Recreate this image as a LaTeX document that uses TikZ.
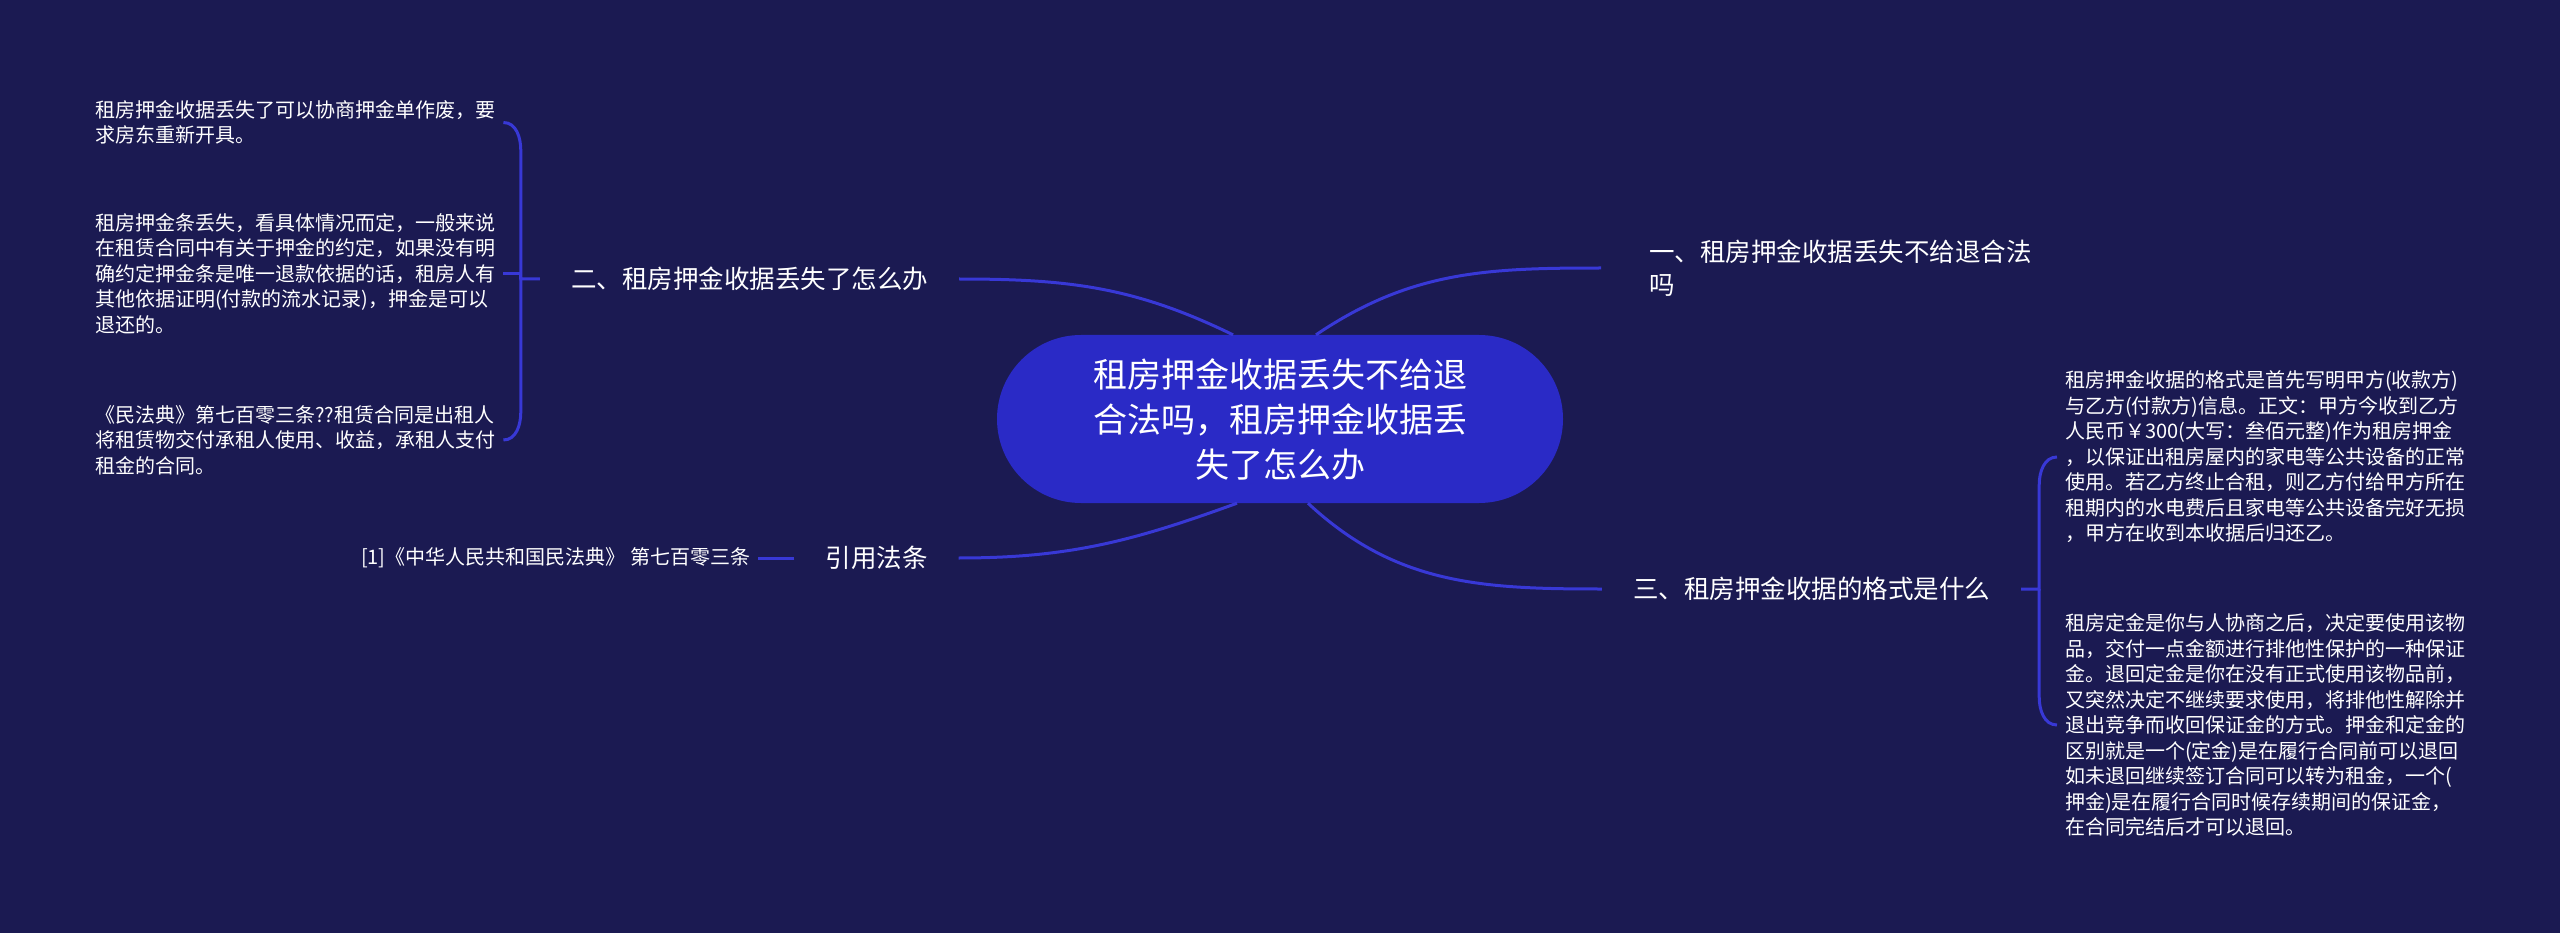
\documentclass[tikz,border=0pt]{standalone}
\usepackage{fontspec}
\newfontfamily\cjk{Noto Sans CJK SC}
\usetikzlibrary{positioning}
\definecolor{bgnavy}{HTML}{1B1A52}
\definecolor{ctrblue}{HTML}{2A2AC6}
\definecolor{linkblue}{HTML}{3838D6}

\begin{document}
\begin{tikzpicture}[x=1pt,y=1pt,
    link/.style={draw=linkblue,line width=3pt},
    ctrnode/.style={rectangle,rounded corners=84pt,fill=ctrblue,minimum width=566pt,
                    minimum height=168pt,align=center,text=white,
                    font=\cjk\fontsize{34}{45}\selectfont},
    branch/.style={text=white,inner xsep=31pt,inner ysep=4pt,align=left,
                   font=\cjk\fontsize{25.5}{33}\selectfont},
    leaf/.style={text=white,inner xsep=8pt,align=left,
                 font=\cjk\fontsize{20}{25.5}\selectfont}]

  \useasboundingbox (0,0) rectangle (2560,-933);
  \fill[bgnavy] (0,0) rectangle (2560,-933);

  \node[ctrnode] (ctr) at (1280,-419)
    {租房押金收据丢失不给退\\合法吗，租房押金收据丢\\失了怎么办};

  \node[branch,anchor=west,inner xsep=48pt] (b1) at (1601,-268)
    {一、租房押金收据丢失不给退合法\\吗};
  \node[branch] (b2) at (749.5,-279) {二、租房押金收据丢失了怎么办};
  \node[branch] (b3) at (1811.5,-589) {三、租房押金收据的格式是什么};
  \node[branch] (b4) at (876.5,-558) {引用法条};

  \node[leaf,anchor=west] (l1) at (87,-122.5)
    {租房押金收据丢失了可以协商押金单作废，要\\求房东重新开具。};
  \node[leaf,anchor=west] (l2) at (87,-273.5)
    {租房押金条丢失，看具体情况而定，一般来说\\在租赁合同中有关于押金的约定，如果没有明\\确约定押金条是唯一退款依据的话，租房人有\\其他依据证明(付款的流水记录)，押金是可以\\退还的。};
  \node[leaf,anchor=west] (l3) at (87,-440)
    {《民法典》第七百零三条??租赁合同是出租人\\将租赁物交付承租人使用、收益，承租人支付\\租金的合同。};
  \node[leaf] (l4) [left=36pt of b4] {[1]《中华人民共和国民法典》 第七百零三条};

  \node[leaf,anchor=west] (r1) at (2057,-457)
    {租房押金收据的格式是首先写明甲方(收款方)\\与乙方(付款方)信息。正文：甲方今收到乙方\\人民币￥300(大写：叁佰元整)作为租房押金\\，以保证出租房屋内的家电等公共设备的正常\\使用。若乙方终止合租，则乙方付给甲方所在\\租期内的水电费后且家电等公共设备完好无损\\，甲方在收到本收据后归还乙。};
  \node[leaf,anchor=west] (r2) at (2057,-725)
    {租房定金是你与人协商之后，决定要使用该物\\品，交付一点金额进行排他性保护的一种保证\\金。退回定金是你在没有正式使用该物品前，\\又突然决定不继续要求使用，将排他性解除并\\退出竞争而收回保证金的方式。押金和定金的\\区别就是一个(定金)是在履行合同前可以退回\\如未退回继续签订合同可以转为租金，一个(\\押金)是在履行合同时候存续期间的保证金，\\在合同完结后才可以退回。};

  \coordinate (lj) at ([xshift=-19pt]b2.west);
  \coordinate (rj) at ([xshift=18pt]b3.east);

  \draw[link] ([xshift=36pt]ctr.north) to[out=34,in=180] (b1.west);
  \draw[link] ([xshift=-47pt]ctr.north) to[out=154,in=0] (b2.east);
  \draw[link] ([xshift=28pt]ctr.south) to[out=-43,in=180] (b3.west);
  \draw[link] ([xshift=-43pt]ctr.south) to[out=200,in=0] (b4.east);

  \draw[link] (b2.west) -- (lj) -- ([yshift=-28pt]lj |- l1.east) to[out=90,in=0] (l1.east);
  \draw[link] (lj) |- (l2.east);
  \draw[link] (lj) -- ([yshift=28pt]lj |- l3.east) to[out=-90,in=0] (l3.east);
  \draw[link] (b4.west) -- (l4.east);
  \draw[link] (b3.east) -- (rj) -- ([yshift=-28pt]rj |- r1.west) to[out=90,in=180] (r1.west);
  \draw[link] (rj) -- ([yshift=28pt]rj |- r2.west) to[out=-90,in=180] (r2.west);
\end{tikzpicture}
\end{document}
